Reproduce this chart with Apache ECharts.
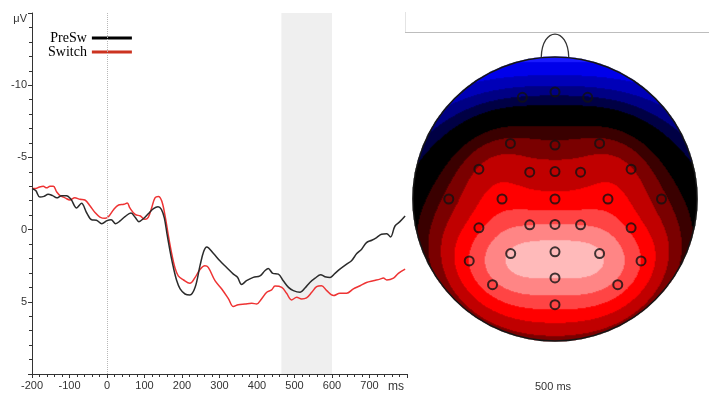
<!DOCTYPE html>
<html>
<head>
<meta charset="utf-8">
<script src="https://cdn.jsdelivr.net/npm/echarts@6/dist/echarts.min.js"></script>
<style>
  html, body { margin: 0; padding: 0; background: #fff; }
  #chart { width: 709px; height: 393px; }
</style>
</head>
<body>
<div id="chart"></div>
<script>
// ---- ERP waveforms (µV; negative is plotted upward) ----
const preswTimes = [-200,-190,-179,-168,-157,-145,-134,-121,-108,-96,-81,-68,-54,-41,-28,-14,0,11,23,35,48,64,75,85,99,110,124,136,145,153,160,168,177,186,195,208,221,235,248,258,266,284,301,319,337,348,359,372,390,408,421,430,442,457,470,484,497,515,528,541,555,570,581,595,608,621,639,652,666,679,692,706,719,732,746,756,768,781,795];
const preswValues = [-2.85,-2.7,-2.25,-2.3,-2.45,-2.35,-2.2,-2.35,-2.35,-2.1,-1.5,-1.82,-1.15,-0.68,-0.65,-0.41,-0.62,-0.68,-0.41,-0.6,-0.9,-1.15,-0.85,-0.55,-0.8,-1.1,-1.45,-1.58,-1.4,-0.8,0.3,1.47,2.62,3.54,4.11,4.46,4.53,4.0,2.5,1.5,1.2,1.66,2.16,2.62,3.08,3.3,3.8,3.54,3.31,3.2,2.85,2.69,3.03,3.08,3.54,4.0,4.23,4.34,4.05,3.66,3.36,3.13,3.26,3.31,3.03,2.74,2.39,2.16,1.66,1.36,0.9,0.74,0.55,0.32,0.28,0.51,-0.25,-0.55,-0.94];

const switchTimes = [-200,-190,-180,-170,-161,-152,-143,-134,-125,-112,-99,-86,-72,-59,-45,-32,-19,-5,4,18,31,45,54,61,75,89,101,110,119,128,137,146,155,163,172,181,190,204,221,235,248,261,270,288,306,324,337,350,368,386,399,412,426,439,448,466,479,492,506,519,532,546,559,572,586,604,621,639,657,675,692,710,728,737,746,764,777,795];
const switchValues = [-2.85,-2.85,-2.95,-3.0,-2.9,-3.0,-3.0,-2.6,-2.35,-2.2,-2.05,-2.2,-2.1,-2.05,-1.63,-1.18,-0.87,-0.78,-0.9,-1.4,-1.7,-1.75,-1.85,-1.5,-1.05,-0.94,-0.71,-0.85,-1.5,-2.2,-2.3,-1.98,-0.94,0.32,1.59,2.62,3.2,3.49,3.72,3.31,2.76,2.51,2.62,3.54,4.11,4.8,5.33,5.2,5.15,5.1,5.15,4.8,4.34,4.18,3.91,4.0,4.41,4.87,4.69,4.8,4.73,4.34,3.95,3.89,4.23,4.57,4.41,4.41,4.11,3.89,3.66,3.54,3.43,3.36,3.49,3.36,3.03,2.74];

const seriesNames = ['PreSw', 'Switch'];
const timeRange = [-200, 800];      // ms
const ampRange = [-15, 10];         // µV
const analysisWindow = [465, 600];  // ms, shaded
const mapLabel = '500 ms';

// ---- Scalp map at 500 ms: electrode positions (unit head circle) and amplitudes (µV) ----
const elecX = [-0.23, 0, 0.23, -0.314, 0, 0.314, -0.536, -0.178, 0, 0.18, 0.536, -0.748, -0.373, 0, 0.373, 0.75, -0.536, -0.178, 0, 0.18, 0.536, -0.604, -0.312, 0, 0.314, 0.606, 0, -0.44, 0.442, 0];
const elecY = [0.716, 0.754, 0.716, 0.391, 0.38, 0.391, 0.21, 0.189, 0.193, 0.189, 0.21, 0, 0, 0, 0, 0, -0.203, -0.182, -0.179, -0.182, -0.203, -0.436, -0.384, -0.372, -0.384, -0.436, -0.556, -0.603, -0.603, -0.744];
const elecValues = [-1.9, -2.35, -1.9, 2.4, 2.3, 2.4, 3.1, 3.5, 3.4, 3.5, 3.1, 2.4, 4.5, 4.35, 4.5, 2.4, 4.8, 6.0, 6.05, 6.0, 4.8, 5.0, 7.1, 7.4, 7.1, 5.0, 7.0, 5.7, 5.7, 5.35];

// contour bands of the scalp map
const mapPieces = [
  { lt: -5, color: '#1c1cff' },
  { gte: -5, lt: -4, color: '#0000ea' },
  { gte: -4, lt: -3, color: '#0000b8' },
  { gte: -3, lt: -2, color: '#000084' },
  { gte: -2, lt: -1, color: '#000046' },
  { gte: -1, lt: 1, color: '#000000' },
  { gte: 1, lt: 2, color: '#3c0000' },
  { gte: 2, lt: 3, color: '#7c0000' },
  { gte: 3, lt: 4, color: '#c00000' },
  { gte: 4, lt: 5, color: '#ff0000' },
  { gte: 5, lt: 6, color: '#ff4646' },
  { gte: 6, lt: 7, color: '#ff8585' },
  { gte: 7, color: '#ffbaba' }
];

// Map a point of the flat head disc to the sphere (disc edge = 120° from the vertex)
const HEAD_SPAN = 2 * Math.PI / 3;
function toSphere(x, y) {
  const th = Math.hypot(x, y) * HEAD_SPAN, ph = Math.atan2(y, x);
  return [Math.sin(th) * Math.cos(ph), Math.sin(th) * Math.sin(ph), Math.cos(th)];
}

// Spherical spline interpolation (Perrin et al.) of the electrode amplitudes
function sphericalSpline(xs, ys, vs) {
  const order = 4, terms = 60, L = 4001;
  const table = new Float64Array(L);
  for (let k = 0; k < L; k++) {
    const x = -1 + 2 * k / (L - 1);
    let p0 = 1, p1 = x, s = 0;
    for (let n = 1; n <= terms; n++) {
      s += (2 * n + 1) / Math.pow(n * (n + 1), order) * p1;
      const p2 = ((2 * n + 1) * x * p1 - n * p0) / (n + 1);
      p0 = p1; p1 = p2;
    }
    table[k] = s / (4 * Math.PI);
  }
  const g = c => {
    const t = (Math.min(1, Math.max(-1, c)) + 1) * (L - 1) / 2;
    const k = Math.floor(t), f = t - k;
    return k >= L - 1 ? table[L - 1] : table[k] * (1 - f) + table[k + 1] * f;
  };
  const n = xs.length, m = n + 1;
  const pts = xs.map((x, i) => toSphere(x, ys[i]));
  const dot = (a, b) => a[0] * b[0] + a[1] * b[1] + a[2] * b[2];
  const A = [], b = [];
  for (let i = 0; i < m; i++) { A.push(new Array(m).fill(0)); b.push(i < n ? vs[i] : 0); }
  for (let i = 0; i < n; i++) {
    for (let j = 0; j < n; j++) A[i][j] = g(dot(pts[i], pts[j]));
    A[i][n] = 1; A[n][i] = 1;
  }
  for (let c = 0; c < m; c++) {
    let p = c;
    for (let r = c + 1; r < m; r++) if (Math.abs(A[r][c]) > Math.abs(A[p][c])) p = r;
    [A[c], A[p]] = [A[p], A[c]]; [b[c], b[p]] = [b[p], b[c]];
    for (let r = c + 1; r < m; r++) {
      const f = A[r][c] / A[c][c];
      if (!f) continue;
      for (let k = c; k < m; k++) A[r][k] -= f * A[c][k];
      b[r] -= f * b[c];
    }
  }
  const w = new Array(m).fill(0);
  for (let r = m - 1; r >= 0; r--) {
    let s = b[r];
    for (let k = r + 1; k < m; k++) s -= A[r][k] * w[k];
    w[r] = s / A[r][r];
  }
  return (x, y) => {
    const q = toSphere(x, y);
    let s = w[n];
    for (let i = 0; i < n; i++) s += w[i] * g(dot(q, pts[i]));
    return s;
  };
}

const surface = sphericalSpline(elecX, elecY, elecValues);
const N = 284;
const cells = [];
const cats = [];
for (let i = 0; i < N; i++) cats.push(i);
for (let i = 0; i < N; i++) {
  const x = -1 + (i + 0.5) * 2 / N;
  for (let j = 0; j < N; j++) {
    const y = -1 + (j + 0.5) * 2 / N;
    if (x * x + y * y <= 1.0) cells.push([i, j, surface(x, y)]);
  }
}

const zip = (a, b) => a.map((v, i) => [v, b[i]]);

const axisFont = { fontFamily: 'Liberation Sans, Arial, sans-serif', fontSize: 11, color: '#333' };
const mapRect = { left: 413, top: 57, width: 284, height: 284 };

const chart = echarts.init(document.getElementById('chart'), null, { renderer: 'canvas' });
chart.setOption({
  animation: false,
  backgroundColor: '#fff',
  legend: {
    orient: 'vertical',
    left: 43,
    top: 26,
    align: 'right',
    icon: 'rect',
    itemWidth: 40,
    itemHeight: 3,
    itemGap: 0,
    textStyle: { fontFamily: 'Liberation Serif, Times New Roman, serif', fontSize: 14, color: '#000' },
    data: [
      { name: seriesNames[0], itemStyle: { color: '#000' } },
      { name: seriesNames[1], itemStyle: { color: '#cc3320' } }
    ]
  },
  grid: [
    { left: 32, top: 13, width: 375, height: 364 },
    mapRect,
    mapRect
  ],
  xAxis: [
    {
      type: 'value', gridIndex: 0, min: timeRange[0], max: timeRange[1], interval: 100,
      name: 'ms', nameLocation: 'end', nameGap: 0,
      nameTextStyle: Object.assign({}, axisFont, { fontSize: 12, align: 'right', verticalAlign: 'top', padding: [7, 3, 0, 0] }),
      axisLine: { onZero: false, lineStyle: { color: '#333' } },
      axisTick: { length: 4, lineStyle: { color: '#333' } },
      minorTick: { show: true, splitNumber: 5, length: 3, lineStyle: { color: '#333' } },
      axisLabel: Object.assign({}, axisFont, { margin: 6, showMaxLabel: false }),
      splitLine: { show: false }
    },
    { type: 'category', gridIndex: 1, data: cats, show: false },
    { type: 'value', gridIndex: 2, min: -1, max: 1, show: false }
  ],
  yAxis: [
    {
      type: 'value', gridIndex: 0, inverse: true, min: ampRange[0], max: ampRange[1], interval: 5,
      name: 'μV', nameLocation: 'start', nameGap: 0,
      nameTextStyle: Object.assign({}, axisFont, { align: 'right', verticalAlign: 'top', padding: [0, 5, 0, 0] }),
      axisLine: { onZero: false, lineStyle: { color: '#333' } },
      axisTick: { length: 4, lineStyle: { color: '#333' } },
      minorTick: { show: true, splitNumber: 5, length: 3, lineStyle: { color: '#333' } },
      axisLabel: Object.assign({}, axisFont, { margin: 5, showMinLabel: false, showMaxLabel: false }),
      splitLine: { show: false }
    },
    { type: 'category', gridIndex: 1, data: cats, show: false },
    { type: 'value', gridIndex: 2, min: -1, max: 1, show: false }
  ],
  visualMap: {
    type: 'piecewise', show: false, seriesIndex: 3, dimension: 2,
    pieces: mapPieces
  },
  graphic: [
    { type: 'line', shape: { x1: 405, y1: 32.5, x2: 709, y2: 32.5 }, style: { stroke: '#bdbdbd', lineWidth: 1 }, silent: true },
    { type: 'line', shape: { x1: 405.5, y1: 12, x2: 405.5, y2: 32 }, style: { stroke: '#e4e4e4', lineWidth: 1 }, silent: true },
    { type: 'text', left: 535, top: 381, style: { text: mapLabel, fill: '#333', font: '11px Liberation Sans, Arial, sans-serif' }, silent: true }
  ],
  series: [
    {
      // shaded analysis window and stimulus onset
      type: 'line', xAxisIndex: 0, yAxisIndex: 0, data: [], z: 1, silent: true,
      markArea: {
        silent: true,
        itemStyle: { color: '#efefef' },
        data: [[{ xAxis: analysisWindow[0] }, { xAxis: analysisWindow[1] }]]
      },
      markLine: {
        silent: true, symbol: 'none', label: { show: false },
        lineStyle: { color: '#b8b8b8', type: 'dotted', width: 1 },
        data: [{ xAxis: 0 }]
      }
    },
    {
      name: seriesNames[0], type: 'line', xAxisIndex: 0, yAxisIndex: 0, z: 4,
      data: zip(preswTimes, preswValues), showSymbol: false, smooth: 0.35,
      lineStyle: { color: '#2b2b2b', width: 1.5 }, itemStyle: { color: '#000' }
    },
    {
      name: seriesNames[1], type: 'line', xAxisIndex: 0, yAxisIndex: 0, z: 3,
      data: zip(switchTimes, switchValues), showSymbol: false, smooth: 0.35,
      lineStyle: { color: '#ee3333', width: 1.5 }, itemStyle: { color: '#cc3320' }
    },
    {
      type: 'heatmap', xAxisIndex: 1, yAxisIndex: 1, data: cells,
      progressive: 0, silent: true, z: 1
    },
    {
      // head outline and nose
      type: 'custom', xAxisIndex: 2, yAxisIndex: 2, data: [[0, 0]], z: 5, silent: true,
      renderItem: function (params, api) {
        const c = api.coord([0, 0]);
        const r = api.size([1, 1])[0];
        const top = c[1] - r;
        const nw = 0.097 * r, nh = 0.163 * r;
        return {
          type: 'group',
          children: [
            { type: 'circle', shape: { cx: c[0], cy: c[1], r: r }, style: { fill: 'none', stroke: '#151515', lineWidth: 1.5 } },
            { type: 'bezierCurve', shape: { x1: c[0] - nw, y1: top + 0.5, cpx1: c[0] - nw * 0.95, cpy1: top - nh * 1.33, cpx2: c[0] + nw * 0.95, cpy2: top - nh * 1.33, x2: c[0] + nw, y2: top + 0.5 }, style: { fill: 'none', stroke: '#333', lineWidth: 1.3 } }
          ]
        };
      }
    },
    {
      type: 'scatter', xAxisIndex: 2, yAxisIndex: 2, z: 6, silent: true,
      data: zip(elecX, elecY), symbol: 'circle', symbolSize: 9,
      itemStyle: { color: 'rgba(0,0,0,0)', borderColor: '#111', borderWidth: 2 }
    }
  ]
});
</script>
</body>
</html>
